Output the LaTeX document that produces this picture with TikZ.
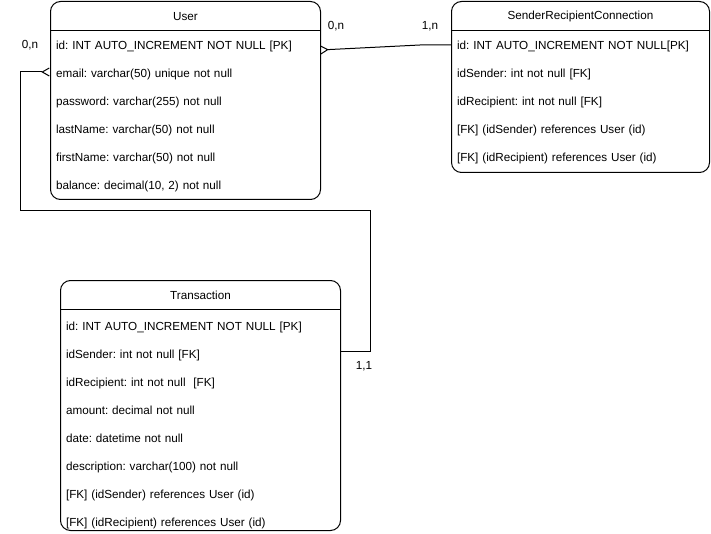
\documentclass[tikz,border=0pt]{standalone}
\usepackage{fontspec}
\setmainfont{Liberation Sans}
\usetikzlibrary{arrows.meta,positioning}
\frenchspacing

\tikzset{
  entity/.style={draw, line width=1pt, rounded corners=10pt, anchor=north west, inner sep=0pt},
  etitle/.style={font=\fontsize{11.7pt}{14pt}\selectfont, inner sep=0pt, minimum height=27pt},
  field/.style={font=\fontsize{11.7pt}{14pt}\selectfont, inner xsep=6pt, inner ysep=0pt,
                text height=9pt, text depth=3pt, align=left},
  card/.style={font=\fontsize{11.7pt}{14pt}\selectfont, inner sep=0pt, text height=9pt, text depth=3pt},
  many/.style={line width=1pt, {Straight Barb[reversed,length=7pt,width=8pt]}-}
}

\begin{document}
\begin{tikzpicture}[x=1pt,y=-1pt,node distance=28pt]
  \useasboundingbox (0,0) rectangle (711,534);

  % User
  \node[entity] (user) [minimum width=270pt, minimum height=198pt] at (50,1) {};
  \node[etitle] (userT) [below=2pt of user.north] {User};
  \draw[line width=1pt] (user.west |- userT.south) -- (user.east |- userT.south);
  \node[field, text width=258pt] (uid)   at (185,47)       {id: INT AUTO\_INCREMENT NOT NULL [PK]};
  \node[field, text width=258pt] (umail) [below of=uid]   {email: varchar(50) unique not null};
  \node[field, text width=258pt] (upass) [below of=umail] {password: varchar(255) not null};
  \node[field, text width=258pt] (ulast) [below of=upass] {lastName: varchar(50) not null};
  \node[field, text width=258pt] (ufirst) [below of=ulast] {firstName: varchar(50) not null};
  \node[field, text width=258pt] (ubal)  [below of=ufirst] {balance: decimal(10, 2) not null};

  % SenderRecipientConnection
  \node[entity] (src) [minimum width=258pt, minimum height=171pt] at (451,1) {};
  \node[etitle] (srcT) [below=2pt of src.north] {SenderRecipientConnection};
  \draw[line width=1pt] (src.west |- srcT.south) -- (src.east |- srcT.south);
  \node[field, text width=246pt] (sid)  at (580,47)       {id: INT AUTO\_INCREMENT NOT NULL[PK]};
  \node[field, text width=246pt] (ssnd) [below of=sid]  {idSender: int not null [FK]};
  \node[field, text width=246pt] (srcp) [below of=ssnd] {idRecipient: int not null [FK]};
  \node[field, text width=246pt] (sfk1) [below of=srcp] {[FK] (idSender) references User (id)};
  \node[field, text width=246pt] (sfk2) [below of=sfk1] {[FK] (idRecipient) references User (id)};

  % Transaction
  \node[entity] (tr) [minimum width=280pt, minimum height=250pt] at (60,280) {};
  \node[etitle] (trT) [below=2pt of tr.north] {Transaction};
  \draw[line width=1pt] (tr.west |- trT.south) -- (tr.east |- trT.south);
  \node[field, text width=268pt] (tid)   at (200,327)       {id: INT AUTO\_INCREMENT NOT NULL [PK]};
  \node[field, text width=268pt] (tsnd)  [below of=tid]   {idSender: int not null [FK]};
  \node[field, text width=268pt] (trcp)  [below of=tsnd]  {idRecipient: int not null\ \ [FK]};
  \node[field, text width=268pt] (tamt)  [below of=trcp]  {amount: decimal not null};
  \node[field, text width=268pt] (tdate) [below of=tamt]  {date: datetime not null};
  \node[field, text width=268pt] (tdesc) [below of=tdate] {description: varchar(100) not null};
  \node[field, text width=268pt] (tfk1)  [below of=tdesc] {[FK] (idSender) references User (id)};
  \node[field, text width=268pt] (tfk2)  [below of=tfk1]  {[FK] (idRecipient) references User (id)};

  % connectors
  \coordinate (bend1) at (420,45);
  \coordinate (turnA) at (20,211);
  \coordinate (turnB) at (370,211);
  \draw[many] ([yshift=-3pt]uid.east) -- (bend1) -- ([yshift=2pt]sid.west);
  \draw[many] ([yshift=3pt]umail.west) -| (turnA) -- (turnB) |- ([yshift=4pt]tsnd.east);

  % cardinalities
  \node[card] (c1) at (336,27) {0,n};
  \node[card] (c2) at (430,27) {1,n};
  \node[card] (c3) at (30,46)  {0,n};
  \node[card] (c4) at (364,366) {1,1};
\end{tikzpicture}
\end{document}
